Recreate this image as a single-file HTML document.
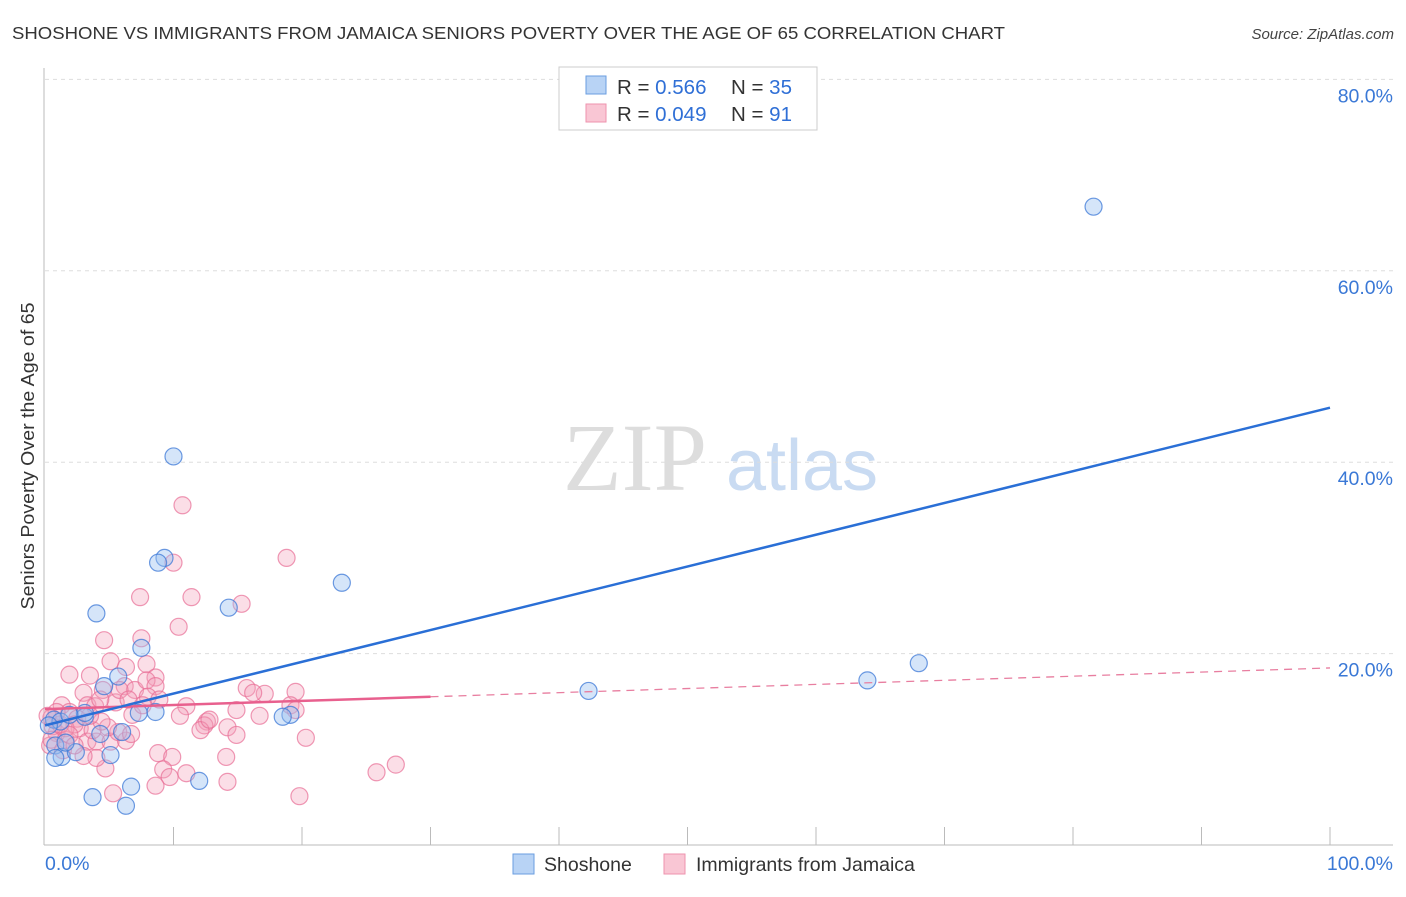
<!DOCTYPE html>
<html><head><meta charset="utf-8"><style>
body{margin:0;background:#fff;font-family:"Liberation Sans",sans-serif;}
</style></head><body>
<svg id="chart" width="1406" height="892" viewBox="0 0 1406 892" xmlns="http://www.w3.org/2000/svg" font-family="Liberation Sans, sans-serif">
<text x="12" y="39" font-size="17.5" fill="#333" textLength="993" lengthAdjust="spacingAndGlyphs">SHOSHONE VS IMMIGRANTS FROM JAMAICA SENIORS POVERTY OVER THE AGE OF 65 CORRELATION CHART</text>
<text x="1394" y="39" font-size="15" fill="#444" font-style="italic" text-anchor="end">Source: ZipAtlas.com</text>
<g>
<text x="635" y="490" font-size="96" fill="#ddd" font-family="Liberation Serif, serif" text-anchor="middle">ZIP</text>
<text x="802" y="490" font-size="72" fill="#c9dbf2" text-anchor="middle">atlas</text>
</g>
<g id="grid"></g>
<g id="axes"></g>
<g id="pts"></g>
<g id="lines"></g>
<text transform="translate(34,456) rotate(-90)" font-size="18.5" fill="#333" text-anchor="middle" textLength="307" lengthAdjust="spacingAndGlyphs">Seniors Poverty Over the Age of 65</text>
<g>
<rect x="559" y="67" width="258" height="63" fill="#fff" stroke="#ccc"/>
<rect x="586" y="76" width="20" height="18" fill="#b8d3f5" stroke="#6a9ee0"/>
<rect x="586" y="104" width="20" height="18" fill="#f9c6d4" stroke="#ee93ae"/>
<text x="617" y="94" font-size="20.5" fill="#333">R = <tspan fill="#2f6fd6">0.566</tspan></text>
<text x="731" y="94" font-size="20.5" fill="#333">N = <tspan fill="#2f6fd6">35</tspan></text>
<text x="617" y="121" font-size="20.5" fill="#333">R = <tspan fill="#2f6fd6">0.049</tspan></text>
<text x="731" y="121" font-size="20.5" fill="#333">N = <tspan fill="#2f6fd6">91</tspan></text>
</g>
<g>
<rect x="513" y="854" width="21" height="20" fill="#b8d3f5" stroke="#6a9ee0"/>
<text x="544" y="871" font-size="19.5" fill="#333">Shoshone</text>
<rect x="664" y="854" width="21" height="20" fill="#f9c6d4" stroke="#ee93ae"/>
<text x="696" y="871" font-size="19.5" fill="#333">Immigrants from Jamaica</text>
</g>
</svg>
<script>
const yTicks=[20,40,60,80];
const yTickLabels=["20.0%","40.0%","60.0%","80.0%"];
const xTickLabels=["0.0%","100.0%"];
const blueX=[81.6,10.0,9.3,8.8,23.1,4.0,14.3,7.5,68.0,64.0,42.3,4.6,5.7,0.8,1.3,0.8,3.1,2.4,5.1,3.1,7.3,8.6,19.1,18.5,6.0,4.3,0.7,1.2,3.7,6.7,6.3,12.0,1.6,1.9,0.3];
const blueY=[66.7,40.6,30.0,29.5,27.4,24.2,24.8,20.6,19.0,17.2,16.1,16.6,17.6,10.4,9.2,9.1,13.4,9.7,9.4,13.8,13.8,13.9,13.6,13.4,11.8,11.6,13.1,12.9,5.0,6.1,4.1,6.7,10.7,13.6,12.5];
const pinkX=[10.7,18.8,10.0,7.4,11.4,15.3,10.4,4.6,7.5,1.9,3.5,5.1,6.3,7.9,8.6,6.2,7.0,7.9,4.5,3.0,15.7,17.1,19.5,16.2,8.6,5.5,8.0,6.8,11.0,14.9,19.1,12.6,14.2,16.7,19.5,14.9,20.3,3.3,3.9,1.3,1.9,2.5,2.7,0.5,0.9,1.6,3.3,4.0,5.1,6.3,5.7,1.6,2.3,0.6,1.2,0.4,8.8,9.9,14.1,4.9,9.2,9.7,11.0,8.6,14.2,4.7,4.0,3.0,5.3,25.8,27.3,19.8,12.4,10.5,0.9,1.9,3.7,4.4,6.7,7.6,3.5,0.5,0.2,1.4,2.3,5.8,6.5,8.9,12.1,12.8,4.3];
const pinkY=[35.5,30.0,29.5,25.9,25.9,25.2,22.8,21.4,21.6,17.8,17.7,19.2,18.6,18.9,17.5,16.6,16.2,17.2,16.2,15.9,16.4,15.8,16.0,15.9,16.6,14.9,15.5,13.6,14.5,14.1,14.6,12.9,12.3,13.5,14.1,11.5,11.2,14.6,14.5,14.6,13.9,13.2,12.2,13.3,11.7,11.0,10.8,10.8,10.8,10.9,11.8,12.2,12.6,12.4,12.6,10.4,9.6,9.2,9.2,12.3,7.9,7.1,7.5,6.2,6.6,8.0,9.1,9.3,5.4,7.6,8.4,5.1,12.5,13.5,13.9,11.5,12.0,12.9,11.6,14.6,13.5,11.0,13.5,9.9,10.4,16.2,15.2,15.2,12.0,13.1,15.2];
const blueFit=[12.5,45.7];
const pinkFit=[14.2,18.5];
const pinkSolidEnd=30;
const NS="http://www.w3.org/2000/svg";
const sx=v=>45+v*12.85, sy=v=>845-v*9.57;
function mk(parent,tag,attrs){const e=document.createElementNS(NS,tag);for(const k in attrs)e.setAttribute(k,attrs[k]);document.getElementById(parent).appendChild(e);return e;}
yTicks.forEach((t,i)=>{
 const g=mk('grid','line',{x1:45,x2:1393,y1:sy(t),y2:sy(t),stroke:'#ddd','stroke-dasharray':'4,4'});
 
 
 const l=mk('axes','text',{x:1393,y:sy(t)+23,'font-size':19.5,fill:'#3a78d6','text-anchor':'end'});l.textContent=yTickLabels[i];
 
 
});
let ax=mk('axes','line',{x1:44,x2:44,y1:68,y2:845,stroke:'#bbb'});


ax=mk('axes','line',{x1:44,x2:1393,y1:845,y2:845,stroke:'#bbb'});


for(let i=1;i<=10;i++){const t=mk('axes','line',{x1:sx(i*10),x2:sx(i*10),y1:827,y2:845,stroke:'#bbb'});
 
 }
[[0,'start',45],[1,'end',1393]].forEach(([i,a,x])=>{const l=mk('axes','text',{x:x,y:870,'font-size':19.5,fill:'#3a78d6','text-anchor':a});l.textContent=xTickLabels[i];
 
 });
pinkX.forEach((x,i)=>{const c=mk('pts','circle',{cx:sx(x),cy:sy(pinkY[i]),r:8.5,fill:'rgba(244,160,186,0.35)',stroke:'rgba(232,110,150,0.7)','stroke-width':1.2});
 
 });
blueX.forEach((x,i)=>{const c=mk('pts','circle',{cx:sx(x),cy:sy(blueY[i]),r:8.5,fill:'rgba(150,190,240,0.4)',stroke:'rgba(60,120,215,0.75)','stroke-width':1.2});
 
 });
const pAt=x=>pinkFit[0]+(pinkFit[1]-pinkFit[0])*x/100;
let ln=mk('lines','line',{x1:sx(pinkSolidEnd),y1:sy(pAt(pinkSolidEnd)),x2:sx(100),y2:sy(pinkFit[1]),stroke:'#e87ea0','stroke-width':1.3,'stroke-dasharray':'8,6'});


ln=mk('lines','line',{x1:sx(0),y1:sy(pinkFit[0]),x2:sx(pinkSolidEnd),y2:sy(pAt(pinkSolidEnd)),stroke:'#e8608e','stroke-width':2.5});


ln=mk('lines','line',{x1:sx(0),y1:sy(blueFit[0]),x2:sx(100),y2:sy(blueFit[1]),stroke:'#2a6fd6','stroke-width':2.5});


</script>
</body></html>
